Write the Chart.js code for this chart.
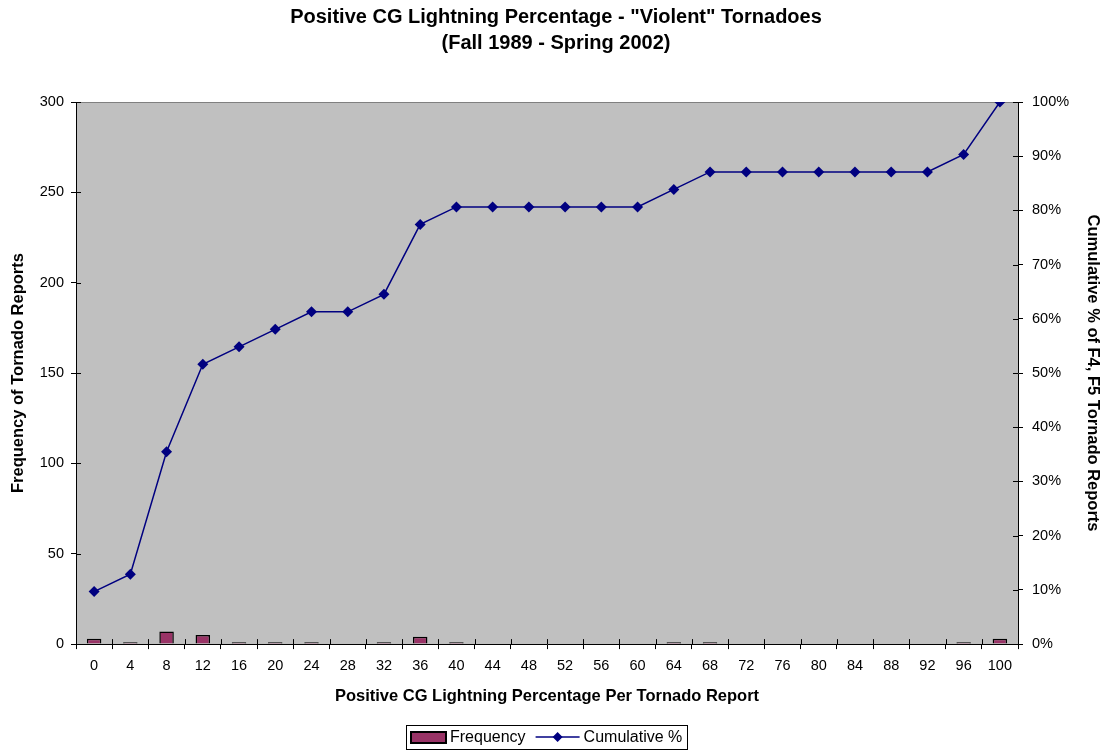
<!DOCTYPE html>
<html><head><meta charset="utf-8">
<script src="https://cdn.jsdelivr.net/npm/chart.js@4.4.1/dist/chart.umd.min.js"></script>
<style>html,body{margin:0;padding:0;background:#fff}#wrap{width:1104px;height:752px}</style>
</head><body><div id="wrap"><canvas id="c" width="1104" height="752"></canvas></div>
<script>
const categories = ['0','4','8','12','16','20','24','28','32','36','40','44','48','52','56','60','64','68','72','76','80','84','88','92','96','100'];
const frequency = [3,1,7,5,1,1,1,0,1,4,1,0,0,0,0,0,1,1,0,0,0,0,0,0,1,3];
const cumulativePct = [9.68,12.90,35.48,51.61,54.84,58.06,61.29,61.29,64.52,77.42,80.65,80.65,80.65,80.65,80.65,80.65,83.87,87.10,87.10,87.10,87.10,87.10,87.10,87.10,90.32,100];
const leftTicks = [0,50,100,150,200,250,300];
const rightTicks = [0,10,20,30,40,50,60,70,80,90,100];
const legendLabels = ['Frequency','Cumulative %'];

const FONT = "Arial, 'Liberation Sans', sans-serif";
const BAR_COLOR = '#993366';
const LINE_COLOR = '#000080';

const decoPlugin = {
  id:'deco',
  beforeDraw(chart){
    const {ctx, chartArea:a} = chart;
    ctx.save();
    ctx.fillStyle='#C0C0C0';
    ctx.fillRect(a.left,a.top,a.right-a.left,a.bottom-a.top);
    ctx.strokeStyle='#808080'; ctx.lineWidth=1;
    ctx.beginPath(); ctx.moveTo(a.left,a.top+0.5); ctx.lineTo(a.right,a.top+0.5); ctx.stroke();
    ctx.restore();
  },
  afterDraw(chart){
    const {ctx, chartArea:a, scales} = chart;
    ctx.save();
    ctx.strokeStyle='#000'; ctx.lineWidth=1;
    ctx.beginPath();
    scales.y.ticks.forEach(t=>{ const y=Math.round(scales.y.getPixelForValue(t.value))+0.5; ctx.moveTo(a.left,y); ctx.lineTo(a.left+5,y); });
    scales.y1.ticks.forEach(t=>{ const y=Math.round(scales.y1.getPixelForValue(t.value))+0.5; ctx.moveTo(a.right,y); ctx.lineTo(a.right-5,y); });
    const n = categories.length, band=(a.right-a.left)/n;
    for(let i=1;i<n;i++){ const x=Math.round(a.left+i*band)+0.5; ctx.moveTo(x,a.bottom); ctx.lineTo(x,a.bottom-5); }
    ctx.stroke();

    ctx.font = '16px '+FONT;
    ctx.textBaseline='middle';
    const w1 = ctx.measureText(legendLabels[0]).width;
    const w2 = ctx.measureText(legendLabels[1]).width;
    const total = 5+35+4+w1+10+44+4+w2+5;
    const cx = (a.left+a.right)/2;
    const bx = Math.round(cx-total/2), by=725, bh=24;
    const cy = by+bh/2;
    ctx.fillStyle='#fff'; ctx.fillRect(bx,by,total,bh);
    ctx.strokeStyle='#000'; ctx.lineWidth=1;
    ctx.strokeRect(bx+0.5,by+0.5,Math.round(total),bh);
    let x = bx+5;
    ctx.fillStyle=BAR_COLOR; ctx.fillRect(x,cy-5,35,11);
    ctx.lineWidth=2; ctx.strokeStyle='#000'; ctx.strokeRect(x,cy-5,35,11);
    x += 35+4;
    ctx.fillStyle='#000'; ctx.textAlign='left'; ctx.fillText(legendLabels[0],x,cy+1);
    x += w1+10;
    ctx.strokeStyle=LINE_COLOR; ctx.lineWidth=1.5;
    ctx.beginPath(); ctx.moveTo(x,cy); ctx.lineTo(x+44,cy); ctx.stroke();
    ctx.fillStyle=LINE_COLOR; ctx.beginPath();
    const dx=x+22; ctx.moveTo(dx,cy-5); ctx.lineTo(dx+5,cy); ctx.lineTo(dx,cy+5); ctx.lineTo(dx-5,cy); ctx.closePath(); ctx.fill();
    x += 44+4;
    ctx.fillStyle='#000'; ctx.fillText(legendLabels[1],x,cy+1);
    ctx.restore();
  }
};

new Chart(document.getElementById('c'), {
  data:{
    labels: categories,
    datasets:[
      {type:'line', label:legendLabels[1], data:cumulativePct, yAxisID:'y1', borderColor:LINE_COLOR, backgroundColor:LINE_COLOR, borderWidth:1.5, pointStyle:'rectRot', pointRadius:5.5, pointHoverRadius:5.5, pointBorderWidth:0, tension:0, order:0},
      {type:'bar', label:legendLabels[0], data:frequency, yAxisID:'y', backgroundColor:BAR_COLOR, borderColor:'#000', borderWidth:1.5, categoryPercentage:1, barPercentage:0.4, order:1}
    ]
  },
  options:{
    responsive:false, animation:false,
    layout:{padding:{top:0,bottom:42,left:8,right:0}},
    plugins:{
      title:{display:true, text:['Positive CG Lightning Percentage - "Violent" Tornadoes','(Fall 1989 - Spring 2002)'], color:'#000', font:{family:FONT,size:20,weight:'bold',lineHeight:1.3}, padding:{top:4,bottom:46}},
      legend:{display:false},
      tooltip:{enabled:false}
    },
    scales:{
      x:{
        offset:true,
        grid:{offset:true, drawOnChartArea:false, drawTicks:true, tickLength:5, color:'#000'},
        border:{color:'#000', width:1},
        ticks:{color:'#000', font:{family:FONT,size:14.5,lineHeight:1.2}, maxRotation:0, autoSkip:false, padding:8},
        title:{display:true, text:'Positive CG Lightning Percentage Per Tornado Report', color:'#000', font:{family:FONT,size:16.5,weight:'bold',lineHeight:1.2}, padding:{top:3.7,bottom:4}}
      },
      y:{
        position:'left', min:0, max:300,
        afterBuildTicks(s){ s.ticks = leftTicks.map(v=>({value:v})); },
        afterFit(s){ s.width = 68; },
        grid:{drawOnChartArea:false, tickLength:5, color:'#000'},
        border:{color:'#000'},
        ticks:{color:'#000', font:{family:FONT,size:14.5}, padding:7},
        title:{display:true, text:'Frequency of Tornado Reports', color:'#000', font:{family:FONT,size:16.5,weight:'bold',lineHeight:1.2}, padding:{top:1,bottom:4}}
      },
      y1:{
        position:'right', min:0, max:100,
        afterBuildTicks(s){ s.ticks = rightTicks.map(v=>({value:v})); },
        afterFit(s){ s.width = 86; },
        grid:{drawOnChartArea:false, tickLength:5, color:'#000'},
        border:{color:'#000'},
        ticks:{color:'#000', font:{family:FONT,size:14.5}, padding:9, callback:v=>v+'%'},
        title:{display:true, text:'Cumulative % of F4, F5 Tornado Reports', color:'#000', font:{family:FONT,size:16.5,weight:'bold',lineHeight:1.2}, padding:{top:2,bottom:0}}
      }
    }
  },
  plugins:[decoPlugin]
});
</script></body></html>
